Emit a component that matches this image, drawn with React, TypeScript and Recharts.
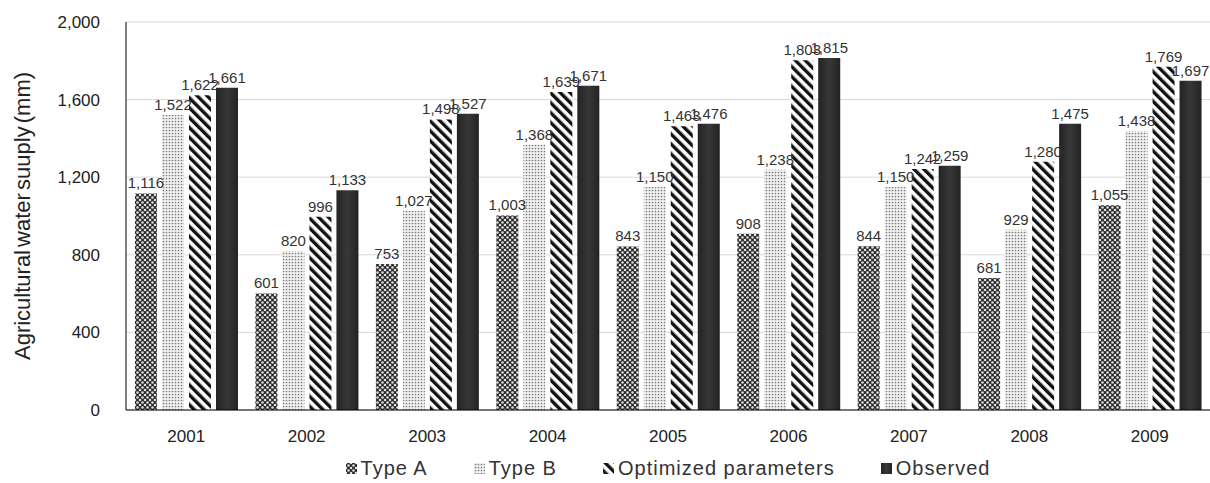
import React from "react";
import { BarChart, Bar, XAxis, YAxis, CartesianGrid, Legend, LabelList } from "recharts";

const years = ["2001", "2002", "2003", "2004", "2005", "2006", "2007", "2008", "2009"];
const typeA = [1116, 601, 753, 1003, 843, 908, 844, 681, 1055];
const typeB = [1522, 820, 1027, 1368, 1150, 1238, 1150, 929, 1438];
const optimized = [1622, 996, 1498, 1639, 1463, 1803, 1242, 1280, 1769];
const observed = [1661, 1133, 1527, 1671, 1476, 1815, 1259, 1475, 1697];
const yTicks = [0, 400, 800, 1200, 1600, 2000];

const seriesInfo = [
  { key: "a", name: "Type A", fill: "url(#patA)" },
  { key: "b", name: "Type B", fill: "url(#patB)" },
  { key: "o", name: "Optimized parameters", fill: "url(#patO)" },
  { key: "obs", name: "Observed", fill: "url(#gradObs)" },
];

const data = years.map((y, i) => ({
  year: y,
  a: typeA[i],
  b: typeB[i],
  o: optimized[i],
  obs: observed[i],
}));

const fmt = (v: number) => Number(v).toLocaleString("en-US");
const FONT = "'Liberation Sans', Arial, sans-serif";

const LegendContent = () => (
  <div
    style={{
      display: "flex",
      justifyContent: "center",
      alignItems: "center",
      height: 26,
      paddingLeft: 126,
      boxSizing: "border-box",
      fontFamily: FONT,
      fontSize: 20,
      letterSpacing: 1,
      color: "#333",
    }}
  >
    {seriesInfo.map((s, i) => (
      <div key={s.key} style={{ display: "flex", alignItems: "center", marginLeft: i === 0 ? 0 : 46 }}>
        <svg width={11} height={11} style={{ marginRight: 4 }}>
          <rect width={11} height={11} fill={s.fill} />
        </svg>
        <span style={{ lineHeight: "26px" }}>{s.name}</span>
      </div>
    ))}
  </div>
);

export default function App() {
  return (
    <div style={{ position: "absolute", left: 0, top: 0, width: 1210, height: 483, background: "#fff", fontFamily: FONT }}>
      <svg width={0} height={0} style={{ position: "absolute" }}>
        <defs>
          <pattern id="patA" width={5} height={5} patternUnits="userSpaceOnUse">
            <rect width={5} height={5} fill="#262626" />
            <circle cx={0} cy={0} r={1.3} fill="#e0e0e0" />
            <circle cx={5} cy={0} r={1.3} fill="#e0e0e0" />
            <circle cx={0} cy={5} r={1.3} fill="#e0e0e0" />
            <circle cx={5} cy={5} r={1.3} fill="#e0e0e0" />
            <circle cx={2.5} cy={2.5} r={1.3} fill="#e0e0e0" />
          </pattern>
          <pattern id="patB" width={3} height={3} patternUnits="userSpaceOnUse">
            <rect width={3} height={3} fill="#f2f2f2" />
            <circle cx={1.5} cy={1.5} r={0.85} fill="#7a7a7a" />
          </pattern>
          <pattern id="patO" width={7} height={7} patternUnits="userSpaceOnUse" patternTransform="rotate(-45)">
            <rect width={7} height={7} fill="#ffffff" />
            <rect width={3.4} height={7} fill="#111111" />
          </pattern>
          <linearGradient id="gradObs" x1="0" y1="0" x2="1" y2="0">
            <stop offset="0%" stopColor="#232323" />
            <stop offset="50%" stopColor="#383838" />
            <stop offset="100%" stopColor="#232323" />
          </linearGradient>
        </defs>
      </svg>
      <BarChart
        width={1210}
        height={483}
        data={data}
        margin={{ top: 22, right: 0, bottom: 2, left: 0 }}
        barSize={22}
        barGap={5}
      >
        <CartesianGrid vertical={false} stroke="#d9d9d9" />
        <XAxis
          dataKey="year"
          height={45}
          axisLine={{ stroke: "#000" }}
          tickLine={false}
          tickMargin={14}
          tick={{ fill: "#222", fontSize: 17, fontFamily: FONT }}
        />
        <YAxis
          width={126}
          domain={[0, 2000]}
          ticks={yTicks}
          tickFormatter={fmt}
          axisLine={{ stroke: "#000" }}
          tickLine={false}
          tick={{ fill: "#222", fontSize: 17, fontFamily: FONT }}
          tickMargin={20}
          label={{
            value: "Agricultural water suuply (mm)",
            angle: -90,
            position: "insideLeft",
            offset: 22,
            style: { textAnchor: "middle", fill: "#222", fontSize: 22, fontFamily: FONT, wordSpacing: -3 },
          }}
        />
        <Legend height={26} content={<LegendContent />} />
        {seriesInfo.map((s) => (
          <Bar key={s.key} dataKey={s.key} name={s.name} fill={s.fill} isAnimationActive={false}>
            <LabelList
              dataKey={s.key}
              position="top"
              offset={5}
              formatter={fmt}
              style={{ fill: "#333", fontSize: 15, fontFamily: FONT }}
            />
          </Bar>
        ))}
      </BarChart>
    </div>
  );
}
